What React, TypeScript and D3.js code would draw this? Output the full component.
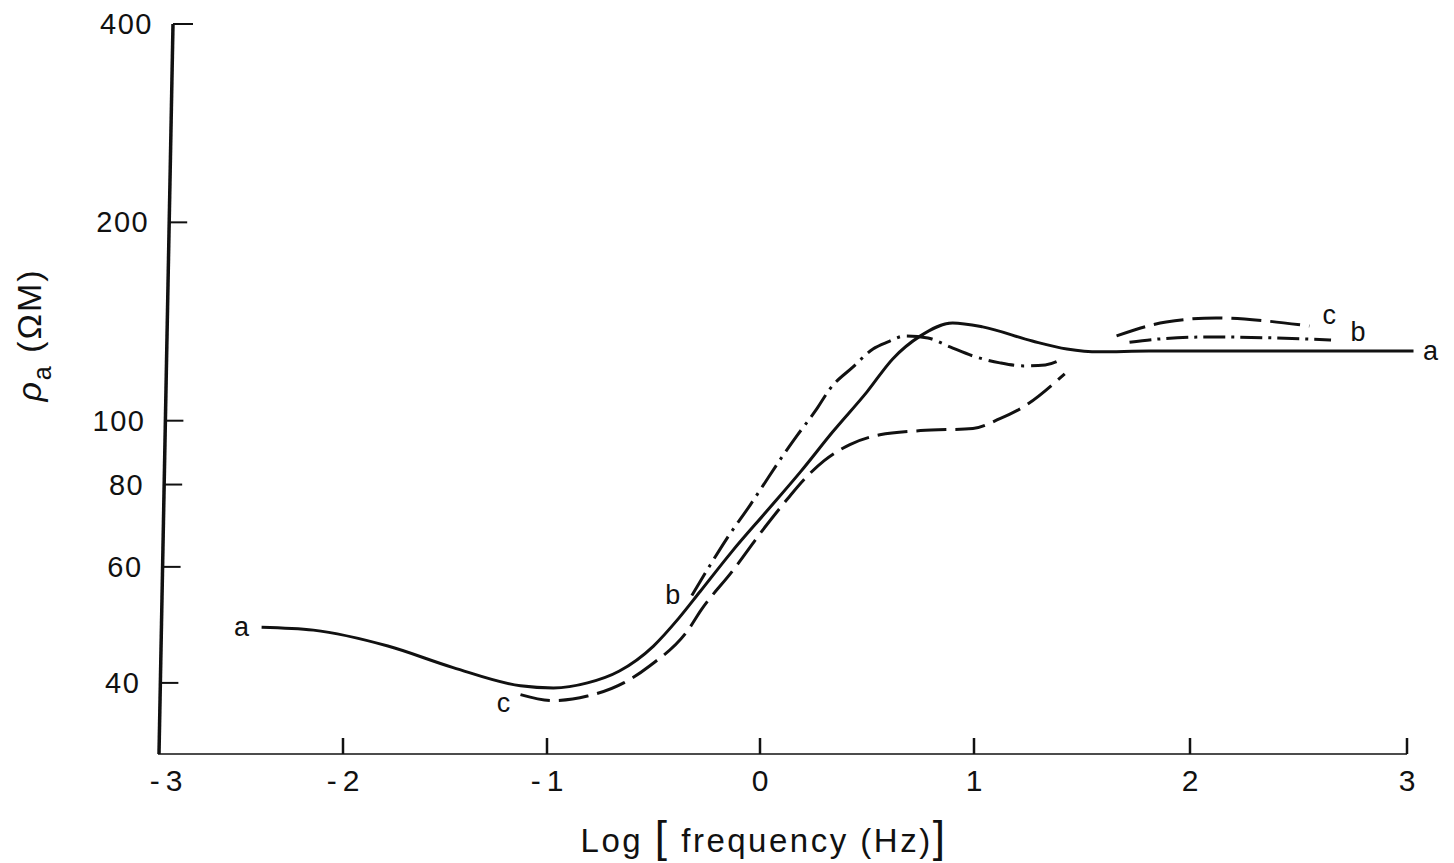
import React from 'react';
import * as d3 from 'd3';

// Axis ticks
const xTicks = [-3, -2, -1, 0, 1, 2, 3];
const yTicks = [400, 200, 100, 80, 60, 40];

// Curve a (solid): log frequency, apparent resistivity
const aLogF = [-2.44, -2.16, -1.78, -1.46, -1.13, -0.97, -0.81, -0.66, -0.5, -0.38, -0.28, -0.13, 0.03, 0.19, 0.34, 0.5, 0.62, 0.75, 0.9, 1.04, 1.27, 1.43, 1.58, 1.81, 2.5, 3.03];
const aRho = [48.6, 48.1, 45.5, 42.2, 39.6, 39.3, 40.0, 41.7, 45.5, 50.2, 55.1, 63.4, 72.8, 83.7, 96.2, 110.6, 124.1, 134.5, 140.7, 138.8, 132.1, 128.5, 127.2, 127.6, 127.6, 127.6];

// Curve b (dash-dot), two drawn segments
const b1LogF = [-0.32, -0.235, -0.155, -0.047, 0.014, 0.107, 0.173, 0.266, 0.327, 0.435, 0.528, 0.598, 0.678, 0.785, 0.888, 0.995, 1.12, 1.23, 1.33, 1.41];
const b1Rho = [54.3, 60.3, 66.3, 74.4, 79.7, 88.5, 94.9, 104.3, 111.8, 120.7, 128.5, 131.7, 134.5, 133.5, 129.4, 125.4, 122.4, 121.1, 121.5, 124.1];
const b2LogF = [1.72, 1.85, 2.1, 2.4, 2.65];
const b2Rho = [131.5, 133.0, 134.0, 133.5, 132.6];

// Curve c (dashed), two drawn segments
const c1LogF = [-1.13, -0.97, -0.81, -0.64, -0.52, -0.33, -0.28, -0.13, 0.03, 0.13, 0.21, 0.30, 0.42, 0.56, 0.75, 0.995, 1.12, 1.23, 1.42];
const c1Rho = [38.4, 37.6, 38.2, 40.0, 42.4, 48.5, 51.4, 59.1, 69.4, 76.2, 81.7, 87.0, 92.0, 95.2, 96.6, 97.3, 100.7, 105.0, 117.8];
const c2LogF = [1.66, 1.89, 2.12, 2.35, 2.55];
const c2Rho = [134.5, 141.2, 143.2, 141.7, 139.2];

const zip = (xs: number[], ys: number[]): [number, number][] => xs.map((v, i) => [v, ys[i]]);

export default function App() {
  const W = 1454, H = 863;
  const x = d3.scaleLinear().domain(xTicks).range([158, 343, 547, 760, 974, 1190, 1407]);
  const y = d3.scaleLog().domain([31.2, 400]).range([754, 24]);
  const line = d3.line<[number, number]>()
    .x(d => x(d[0]))
    .y(d => y(d[1]))
    .curve(d3.curveMonotoneX);

  const yTop = y(400), yBot = y.range()[0];
  // the scanned y axis leans slightly
  const axisX = (py: number) => 159 + ((yBot - py) / (yBot - yTop)) * 14;

  const font = "'Liberation Sans', Arial, sans-serif";
  const ink = '#111';

  const a = zip(aLogF, aRho);
  const b1 = zip(b1LogF, b1Rho), b2 = zip(b2LogF, b2Rho);
  const c1 = zip(c1LogF, c1Rho), c2 = zip(c2LogF, c2Rho);

  const lab = (t: string, px: number, py: number, key: string) => (
    <text key={key} x={px} y={py} fontSize={27} fontFamily={font} fill={ink} textAnchor="middle" dominantBaseline="central">{t}</text>
  );

  return (
    <svg width={W} height={H} style={{ position: 'absolute', left: 0, top: 0, background: '#fff' }}>
      <rect width={W} height={H} fill="#fff" />
      {/* y axis */}
      <line x1={axisX(yTop)} y1={yTop} x2={axisX(yBot)} y2={yBot} stroke={ink} strokeWidth={3.5} />
      {yTicks.map(t => {
        const py = y(t);
        const ax = axisX(py);
        return (
          <g key={'yt' + t}>
            <line x1={ax} x2={ax + (t === 400 ? 20 : 18)} y1={py} y2={py} stroke={ink} strokeWidth={2} />
            <text x={ax - 20} y={py} fontSize={29} fontFamily={font} fill={ink} textAnchor="end" dominantBaseline="central" letterSpacing={1.5}>{t}</text>
          </g>
        );
      })}
      {/* x axis */}
      <line x1={x(-3)} x2={x(3)} y1={yBot} y2={yBot} stroke={ink} strokeWidth={1.6} />
      {xTicks.map(t => (
        <g key={'xt' + t}>
          {t > -3 && <line x1={x(t)} x2={x(t)} y1={yBot} y2={yBot - 16} stroke={ink} strokeWidth={2.5} />}
          <text x={x(t) + (t === -3 ? 8 : 0)} y={780} fontSize={30} fontFamily={font} fill={ink} textAnchor="middle" dominantBaseline="central">
            {t < 0 ? '-\u2009' + Math.abs(t) : String(t)}
          </text>
        </g>
      ))}
      {/* x axis title */}
      <text x={764} y={852} fontSize={33} fontFamily={font} fill={ink} textAnchor="middle" letterSpacing={2.5}>
        Log <tspan fontSize={44} fontWeight={300}>[</tspan> frequency (Hz)<tspan fontSize={44} fontWeight={300}>]</tspan>
      </text>
      {/* y axis title */}
      <g transform="translate(41,335) rotate(-90)">
        <text x={0} y={0} fontSize={34} fontFamily={font} fill={ink} textAnchor="middle" letterSpacing={2}>
          <tspan fontStyle="italic">ρ</tspan>
          <tspan fontSize={25} dy={10}>a</tspan>
          <tspan dy={-10}> (ΩM)</tspan>
        </text>
      </g>
      {/* curves */}
      <path d={line(a) || ''} fill="none" stroke={ink} strokeWidth={3} />
      <path d={line(b1) || ''} fill="none" stroke={ink} strokeWidth={3} strokeDasharray="26,7,3,7" />
      <path d={line(b2) || ''} fill="none" stroke={ink} strokeWidth={3} strokeDasharray="22,6,3,6" />
      <path d={line(c1) || ''} fill="none" stroke={ink} strokeWidth={3} strokeDasharray="30,9" />
      <path d={line(c2) || ''} fill="none" stroke={ink} strokeWidth={3} strokeDasharray="30,9" />
      {/* curve labels */}
      {lab('a', x(aLogF[0]) - 20, y(aRho[0]), 'la1')}
      {lab('a', x(aLogF[aLogF.length - 1]) + 17, y(aRho[aRho.length - 1]), 'la2')}
      {lab('b', x(b1LogF[0]) - 19, y(b1Rho[0]), 'lb1')}
      {lab('b', x(b2LogF[b2LogF.length - 1]) + 27, y(b2Rho[b2Rho.length - 1]) - 8, 'lb2')}
      {lab('c', x(c1LogF[0]) - 17, y(c1Rho[0]) + 8, 'lc1')}
      {lab('c', x(c2LogF[c2LogF.length - 1]) + 20, y(c2Rho[c2Rho.length - 1]) - 11, 'lc2')}
    </svg>
  );
}
